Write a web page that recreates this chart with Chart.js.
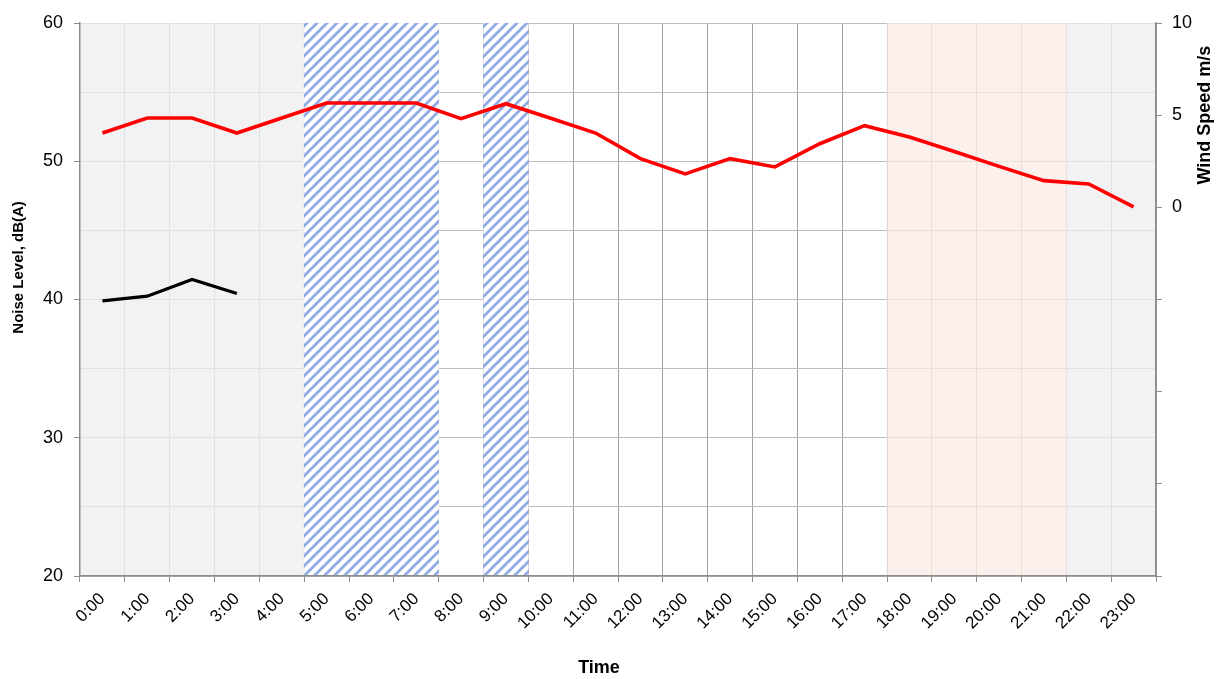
<!DOCTYPE html>
<html>
<head>
<meta charset="utf-8">
<script src="https://cdn.jsdelivr.net/npm/chart.js@4"></script>
<style>
  html, body { margin: 0; padding: 0; background: #fff; }
  #wrap { position: relative; width: 1221px; height: 679px; }
</style>
</head>
<body>
<div id="wrap"><canvas id="c"></canvas></div>
<script>
// ---- data ----
const hours = ['0:00','1:00','2:00','3:00','4:00','5:00','6:00','7:00','8:00','9:00','10:00','11:00',
               '12:00','13:00','14:00','15:00','16:00','17:00','18:00','19:00','20:00','21:00','22:00','23:00'];
const windSpeed = [4.03, 4.85, 4.85, 4.03, 4.85, 5.66, 5.66, 5.66, 4.81, 5.62, 4.83, 4.03,
                   2.64, 1.81, 2.64, 2.19, 3.45, 4.43, 3.82, 3.03, 2.22, 1.45, 1.27, 0.02];
const noiseLevel = [39.9, 40.24, 41.45, 40.43, null, null, null, null, null, null, null, null,
                    null, null, null, null, null, null, null, null, null, null, null, null];
const periods = ['night','night','night','night','night','excluded','excluded','excluded','day','excluded',
                 'day','day','day','day','day','day','day','day','evening','evening','evening','evening','night','night'];
const noiseTicks = [20, 30, 40, 50, 60];
const windTicks = [0, 5, 10];

// ---- styles ----
function hatchPattern() {
  const s = 10;
  const cv = document.createElement('canvas');
  cv.width = s; cv.height = s;
  const g = cv.getContext('2d');
  g.fillStyle = 'rgba(255,255,255,0.88)';
  g.fillRect(0, 0, s, s);
  g.strokeStyle = 'rgba(138,166,226,0.95)';
  g.lineWidth = 2.8;
  g.beginPath();
  g.moveTo(-s, s); g.lineTo(s, -s);
  g.moveTo(0, 2 * s); g.lineTo(2 * s, 0);
  g.moveTo(-s, 2 * s); g.lineTo(2 * s, -s);
  g.stroke();
  return g.createPattern(cv, 'repeat');
}
const hatch = hatchPattern();
const periodColor = {
  night: 'rgba(237,237,237,0.72)',
  evening: 'rgba(249,234,227,0.72)',
  excluded: hatch,
  day: 'rgba(0,0,0,0)'
};
const bgValues = periods.map(p => p === 'day' ? null : 1);
const bgColors = periods.map(p => periodColor[p]);

const FONT = '"Liberation Sans", Arial, sans-serif';

const titlePlugin = {
  id: 'axisTitles',
  afterDraw(chart) {
    const ctx = chart.ctx;
    const a = chart.chartArea;
    ctx.save();
    ctx.fillStyle = '#000';
    ctx.textAlign = 'center';
    ctx.textBaseline = 'middle';
    // left title
    ctx.save();
    ctx.translate(19, a.top + (a.bottom - a.top) * 0.442);
    ctx.rotate(-Math.PI / 2);
    ctx.font = 'bold 15px ' + FONT;
    ctx.fillText('Noise Level, dB(A)', 0, 0);
    ctx.restore();
    // right title
    const y1 = chart.scales.y1;
    ctx.save();
    ctx.translate(1205, y1.getPixelForValue(5));
    ctx.rotate(-Math.PI / 2);
    ctx.font = 'bold 18px ' + FONT;
    ctx.fillText('Wind Speed m/s', 0, 0);
    ctx.restore();
    // bottom title
    ctx.font = 'bold 18px ' + FONT;
    ctx.fillText('Time', 599, 668);
    ctx.restore();
  }
};

const axisGray = '#8c8c8c';

new Chart(document.getElementById('c'), {
  data: {
    labels: hours,
    datasets: [
      {
        type: 'line', label: 'Noise', data: noiseLevel, yAxisID: 'y',
        borderColor: '#000', borderWidth: 3.2, pointRadius: 0, tension: 0, spanGaps: false, order: 1
      },
      {
        type: 'line', label: 'Wind', data: windSpeed, yAxisID: 'y1',
        borderColor: '#ff0000', borderWidth: 3.6, pointRadius: 0, tension: 0, order: 0
      },
      {
        type: 'bar', label: 'Periods', data: bgValues, yAxisID: 'yBg',
        backgroundColor: bgColors, borderWidth: 0, barPercentage: 1.0, categoryPercentage: 1.0, order: 10
      }
    ]
  },
  options: {
    responsive: true,
    maintainAspectRatio: false,
    animation: false,
    layout: { padding: { top: 23, left: 0, right: 0, bottom: 0 } },
    plugins: { legend: { display: false }, tooltip: { enabled: false }, title: { display: false } },
    scales: {
      x: {
        type: 'category',
        offset: true,
        grid: { offset: true, color: '#a0a0a0', lineWidth: 1, tickLength: 6, tickColor: axisGray, z: -1 },
        border: { color: axisGray, width: 1.5, z: 1 },
        ticks: { color: '#000', font: { family: FONT, size: 17 }, minRotation: 45, maxRotation: 45, autoSkip: false, padding: 7 },
        afterFit(s) { s.height = 103; }
      },
      y: {
        position: 'left', min: 20, max: 60,
        ticks: {
          stepSize: 5, color: '#000', font: { family: FONT, size: 18 }, padding: 11,
          callback: v => noiseTicks.includes(v) ? String(v) : ''
        },
        grid: {
          color: '#bdbdbd', lineWidth: 1, tickLength: 6,
          tickColor: c => (c.tick && noiseTicks.includes(c.tick.value)) ? axisGray : 'rgba(0,0,0,0)'
        },
        border: { color: axisGray, width: 1.5, z: 1 },
        afterFit(s) { s.width = 80; }
      },
      y1: {
        position: 'right', min: -20, max: 10,
        ticks: {
          stepSize: 5, color: '#000', font: { family: FONT, size: 18 }, padding: 10,
          callback: v => windTicks.includes(v) ? String(v) : ''
        },
        grid: { drawOnChartArea: false, tickLength: 6, tickColor: axisGray },
        border: { color: axisGray, width: 1.5, z: 1 },
        afterFit(s) { s.width = 65; }
      },
      yBg: { display: false, min: 0, max: 1 }
    }
  },
  plugins: [titlePlugin]
});
</script>
</body>
</html>
